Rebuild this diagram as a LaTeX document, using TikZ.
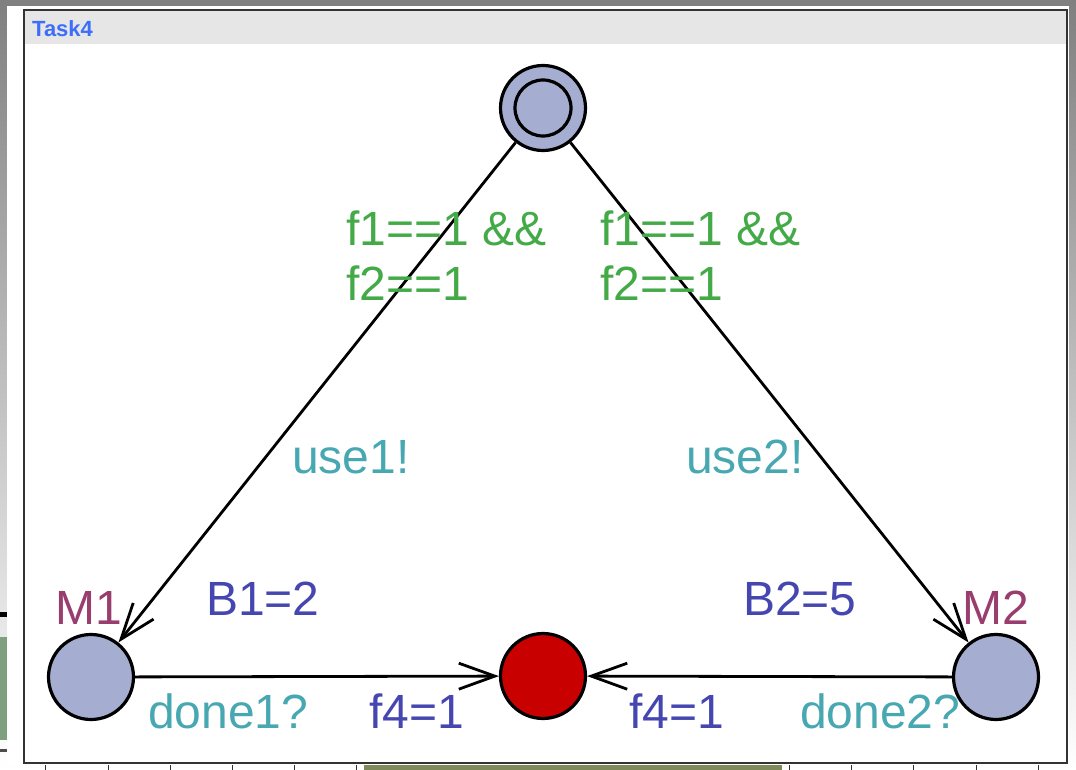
\documentclass[tikz,border=0pt]{standalone}
\usepackage{fontspec}
\setmainfont{Liberation Sans}
\usetikzlibrary{arrows.meta}
\definecolor{guardc}{HTML}{44AA48}
\definecolor{syncc}{HTML}{48A8B2}
\definecolor{updc}{HTML}{4646B0}
\definecolor{namec}{HTML}{993D6E}
\definecolor{locfill}{HTML}{A5AED0}
\definecolor{urgent}{HTML}{C80000}
\definecolor{titlec}{HTML}{3C6EFA}
\definecolor{barc}{HTML}{E6E6E6}
\definecolor{shade}{HTML}{A0A0A0}
\definecolor{leaf}{HTML}{7FA07F}
\definecolor{moss}{HTML}{7E8A5A}
\tikzset{loc/.style={circle,draw=black,line width=3.2pt,fill=locfill,minimum size=85pt,inner sep=0pt},
  trans/.style={draw=black,line width=2.8pt,-{Straight Barb[length=36pt,width=26pt]}},
  lbl/.style={font=\fontsize{48}{55}\selectfont,anchor=base west,inner sep=0pt},
  guard/.style={lbl,text=guardc},
  sync/.style={lbl,text=syncc},
  upd/.style={lbl,text=updc},
  lname/.style={lbl,text=namec},
  frame/.style={draw=black!80,line width=2.4pt}}
\begin{document}
\begin{tikzpicture}[x=1pt,y=-1pt]
  \useasboundingbox (0,0) rectangle (1076,770);
  \fill[shade] (0,0) rectangle (1076,770);
  \fill[white] (7,6) rectangle (1069,765);
  \fill[leaf] (0,637) rectangle (7,740);
  \fill[black] (0,612) rectangle (7,617);
  \fill[black!70] (0,749) rectangle (7,752);
  \fill[moss] (364,765) rectangle (782,770);
  \foreach \x in {45,108,170,232,294,356,789,851,913,976,1038}
    \draw[black!80,line width=1pt] (\x,765) -- (\x,770);
  \draw[frame] (24,10) rectangle (1067,763);
  \fill[barc] (25.2,11.2) rectangle (1065.8,44);
  \node[font=\fontsize{22}{26}\selectfont\bfseries,text=titlec,anchor=base west,inner sep=0pt] (title) at (32,37) {Task4};

  \node[loc] (init) at (543,108) {};
  \node[circle,draw=black,line width=3.2pt,minimum size=56pt,inner sep=0pt] (initin) at (543,108) {};
  \node[loc] (m1) at (91,677) {};
  \node[loc] (m2) at (996,677) {};
  \node[loc,fill=urgent] (done) at (543,676) {};

  \draw[trans] (init) -- (m1);
  \draw[trans] (init) -- (m2);
  \draw[trans] (m1) -- (done);
  \draw[trans] (m2) -- (done);

  \node[guard] (g1a) at (346,245) {f1==1 \&\&};
  \node[guard] (g1b) at (346,300) {f2==1};
  \node[guard] (g2a) at (600,245) {f1==1 \&\&};
  \node[guard] (g2b) at (600,300) {f2==1};
  \node[sync] (s1) at (292,473) {use1!};
  \node[sync] (s2) at (686,473) {use2!};
  \node[upd] (u1) at (206,615) {B1=2};
  \node[upd] (u2) at (743,615) {B2=5};
  \node[lname] (n1) at (55,624) {M1};
  \node[lname] (n2) at (962,624) {M2};
  \node[sync] (s3) at (148,728) {done1?};
  \node[upd] (u3) at (369,728) {f4=1};
  \node[upd] (u4) at (629,728) {f4=1};
  \node[sync] (s4) at (800,728) {done2?};
\end{tikzpicture}
\end{document}
